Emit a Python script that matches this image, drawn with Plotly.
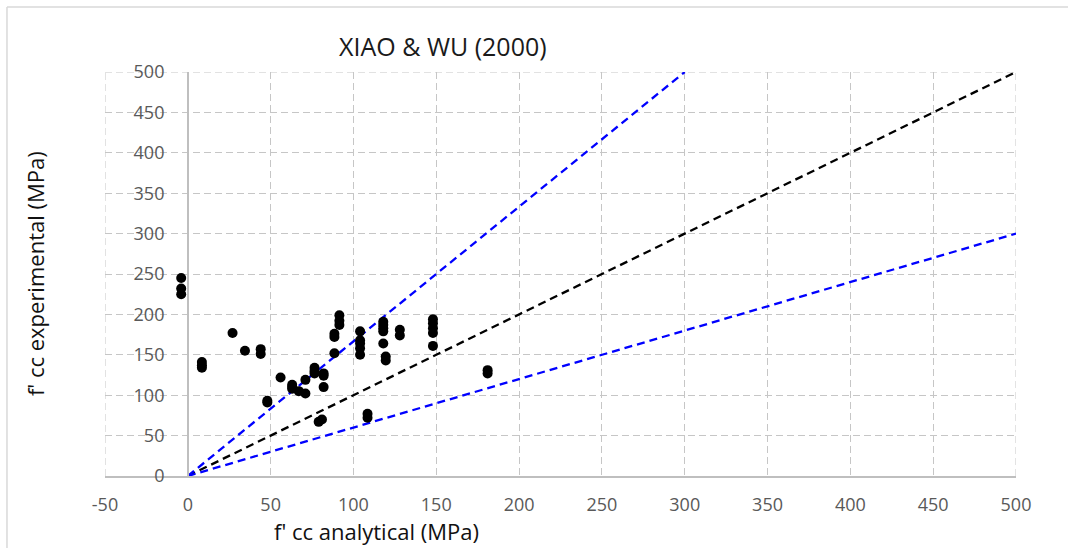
import plotly.graph_objects as go

# Measured points: analytical vs experimental confined strength (MPa)
fcc_analytical = [
    -4, -4, -4,
    8.5, 8.5, 8.5,
    27, 34.5, 44, 44, 48, 48,
    56, 63, 63, 63, 67, 71, 71,
    76.5, 76.5, 76.5, 82, 82, 82, 79, 81,
    88.5, 88.5, 88.5, 91.5, 91.5, 91.5,
    104, 104, 104, 104, 104,
    108.5, 108.5,
    118, 118, 118, 118, 118, 119.5, 119.5,
    128, 128,
    148, 148, 148, 148, 148,
    181, 181,
]
fcc_experimental = [
    245, 232, 225,
    141, 137, 134,
    177, 155, 157, 151, 93, 91,
    122, 113, 110, 108, 105, 119, 102,
    134, 130, 127, 127, 124, 110, 67, 70,
    176, 172, 152, 199, 192, 187,
    179, 168, 164, 158, 150,
    77, 72,
    191, 187, 183, 179, 164, 148, 143,
    181, 174,
    194, 189, 183, 177, 161,
    131, 127,
]

# Reference lines: equality and +/-40 % bounds
ref_x = [0, 500]
ref_y = [0, 500]
upper_x = [0, 300]
upper_y = [0, 500]
lower_x = [0, 500]
lower_y = [0, 300]

x_ticks = [-50, 0, 50, 100, 150, 200, 250, 300, 350, 400, 450, 500]
y_ticks = [0, 50, 100, 150, 200, 250, 300, 350, 400, 450, 500]

FONT = "Open Sans"
GRID = "#c6c6c6"
AXIS = "#bfbfbf"
TICK_COLOR = "#595959"

fig = go.Figure()

fig.add_trace(go.Scatter(x=ref_x, y=ref_y, mode="lines",
                         line=dict(color="black", width=2.3, dash="8px,5px"),
                         showlegend=False, hoverinfo="skip"))
fig.add_trace(go.Scatter(x=upper_x, y=upper_y, mode="lines",
                         line=dict(color="#0000ff", width=2.3, dash="8px,5px"),
                         showlegend=False, hoverinfo="skip"))
fig.add_trace(go.Scatter(x=lower_x, y=lower_y, mode="lines",
                         line=dict(color="#0000ff", width=2.3, dash="8px,5px"),
                         showlegend=False, hoverinfo="skip"))
fig.add_trace(go.Scatter(x=fcc_analytical, y=fcc_experimental, mode="markers",
                         marker=dict(color="black", size=10),
                         showlegend=False))

# dashed plot-area border (edge gridlines)
border = dict(color=GRID, width=1, dash="7px,4px")
fig.add_shape(type="line", x0=-50, x1=500, y0=500, y1=500, line=border, layer="below")
fig.add_shape(type="line", x0=-50, x1=-50, y0=0, y1=500, line=border, layer="below")
fig.add_shape(type="line", x0=500, x1=500, y0=0, y1=500, line=border, layer="below")

# outer chart frame
frame = dict(color="#d9d9d9", width=1.5)
fig.add_shape(type="line", xref="paper", yref="paper",
              x0=-0.1076, x1=1.2, y0=1.1609, y1=1.1609, line=frame)
fig.add_shape(type="line", xref="paper", yref="paper",
              x0=-0.1076, x1=-0.1076, y0=1.1609, y1=-0.3, line=frame)

fig.update_layout(
    width=1068, height=548, autosize=False,
    margin=dict(l=105, r=52, t=72, b=72),
    plot_bgcolor="white", paper_bgcolor="white",
    font=dict(family=FONT, color=TICK_COLOR),
    xaxis=dict(
        range=[-50, 500], tickvals=x_ticks, ticktext=[str(v) for v in x_ticks],
        showgrid=True, gridcolor=GRID, griddash="7px,4px", gridwidth=1,
        zeroline=False, showline=True, linecolor=AXIS, linewidth=1.5,
        ticks="", tickfont=dict(size=18, color=TICK_COLOR, family=FONT),
        ticklabelstandoff=12,
    ),
    yaxis=dict(
        range=[0, 500], tickvals=y_ticks, ticktext=[str(v) for v in y_ticks],
        anchor="free", position=50 / 550,
        showgrid=True, gridcolor=GRID, griddash="7px,4px", gridwidth=1,
        zeroline=False, showline=True, linecolor=AXIS, linewidth=1.5,
        ticks="", tickfont=dict(size=18, color=TICK_COLOR, family=FONT),
        ticklabelstandoff=19,
    ),
    annotations=[
        dict(text="XIAO & WU (2000)", xref="paper", yref="paper",
             x=0.371, y=1.064, xanchor="center", yanchor="middle", showarrow=False,
             font=dict(size=25, color="#1a1a1a", family=FONT)),
        dict(text="f' cc analytical (MPa)", xref="paper", yref="paper",
             x=0.2975, y=-0.136, xanchor="center", yanchor="middle", showarrow=False,
             font=dict(size=22, color="#111111", family=FONT)),
        dict(text="f' cc experimental (MPa)", xref="paper", yref="paper",
             x=-0.0768, y=0.5, xanchor="center", yanchor="middle", showarrow=False,
             textangle=-90, font=dict(size=22, color="#111111", family=FONT)),
    ],
)

fig.write_html("out.html")
